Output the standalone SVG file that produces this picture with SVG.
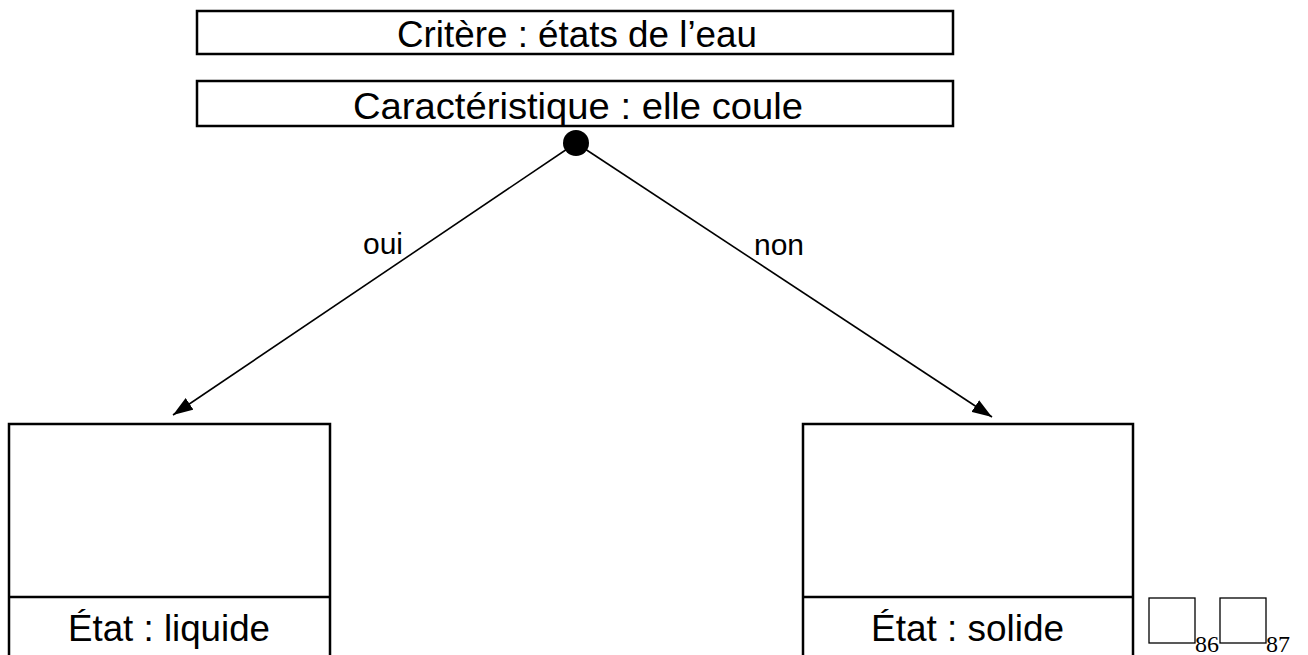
<svg xmlns="http://www.w3.org/2000/svg" width="1308" height="655" viewBox="0 0 1308 655">
<defs>
<style>
.box{fill:#fff;stroke:#000;stroke-width:2.5}
.div{stroke:#000;stroke-width:2.5}
.t{font-family:"Liberation Sans",Arial,sans-serif;font-size:36px;fill:#000;text-anchor:middle}
.lbl{font-family:"Liberation Sans",Arial,sans-serif;font-size:30px;fill:#000}
.edge{stroke:#000;stroke-width:1.6;fill:none}
.sq{fill:none;stroke:#000;stroke-width:1.3}
.num{font-family:"Liberation Serif","Times New Roman",serif;font-size:24px;fill:#000}
</style>
<marker id="arr" viewBox="0 0 20 14" refX="20" refY="7" markerWidth="20" markerHeight="14" markerUnits="userSpaceOnUse" orient="auto">
<path d="M0,0 L20,7 L0,14 Z" fill="#000"/>
</marker>
</defs>
<rect width="1308" height="655" fill="#fff"/>
<g id="criterion">
<rect class="box" x="197" y="11" width="756" height="43"/>
<text class="t" x="577" y="46.5" textLength="360" lengthAdjust="spacingAndGlyphs">Critère : états de l’eau</text>
</g>
<g id="characteristic">
<rect class="box" x="197" y="81" width="756" height="45"/>
<text class="t" x="578" y="118.5" textLength="450" lengthAdjust="spacingAndGlyphs">Caractéristique : elle coule</text>
</g>
<g id="junction">
<circle cx="576" cy="143" r="13" fill="#000"/>
</g>
<g id="connectors">
<line class="edge" x1="576" y1="143" x2="173" y2="415" marker-end="url(#arr)"/>
<line class="edge" x1="576" y1="143" x2="992" y2="417" marker-end="url(#arr)"/>
<text class="lbl" x="363" y="254">oui</text>
<text class="lbl" x="754" y="255">non</text>
</g>
<g id="liquid">
<rect class="box" x="9" y="424" width="321" height="240"/>
<line class="div" x1="9" y1="597" x2="330" y2="597"/>
<text class="t" x="169" y="641" textLength="202" lengthAdjust="spacingAndGlyphs">État : liquide</text>
</g>
<g id="solid">
<rect class="box" x="803" y="424" width="330" height="240"/>
<line class="div" x1="803" y1="597" x2="1133" y2="597"/>
<text class="t" x="967.5" y="641" textLength="193" lengthAdjust="spacingAndGlyphs">État : solide</text>
</g>
<g id="marks">
<rect class="sq" x="1149" y="598" width="46" height="45"/>
<text class="num" x="1195" y="652">86</text>
<rect class="sq" x="1220" y="598" width="46" height="45"/>
<text class="num" x="1266" y="652">87</text>
</g>
</svg>
